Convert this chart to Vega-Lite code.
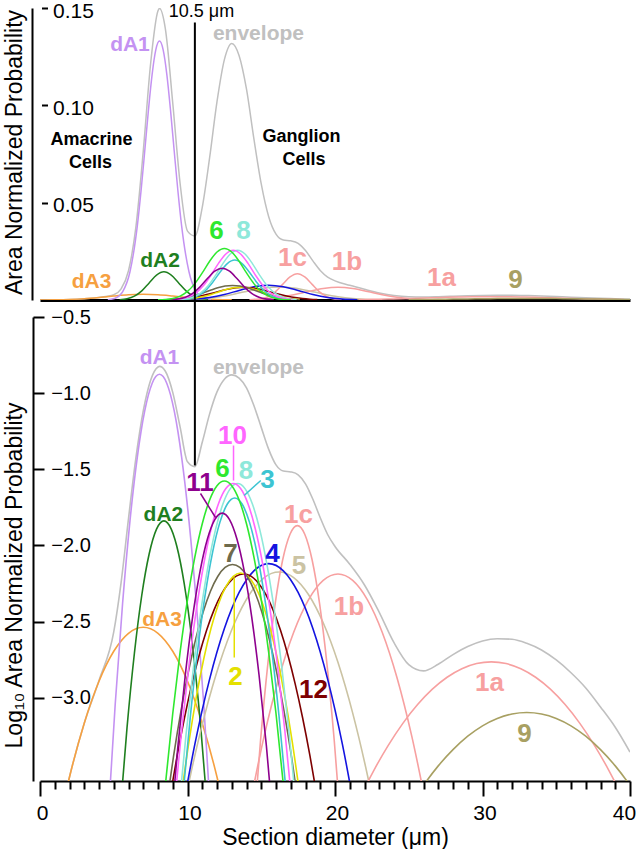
{
  "$schema": "https://vega.github.io/schema/vega-lite/v6.json",
  "padding": {"left": 3, "top": 0, "right": 0, "bottom": 0},
  "background": "white",
  "config": {
    "font": "Liberation Sans",
    "view": {"stroke": null},
    "axis": {"grid": false, "domainColor": "black", "tickColor": "black", "labelColor": "black", "titleColor": "black", "labelFont": "Liberation Sans", "titleFont": "Liberation Sans", "titleFontWeight": "normal"}
  },
  "datasets": {
    "curves": [
      {"c":"envelope","x":0,"p":0.0000343},{"c":"envelope","x":1,"p":0.000111},{"c":"envelope","x":2,"p":0.000302},{"c":"envelope","x":3,"p":0.000681},{"c":"envelope","x":4,"p":0.0013},{"c":"envelope","x":5,"p":0.00271},{"c":"envelope","x":5.5,"p":0.00573},{"c":"envelope","x":6,"p":0.01502},{"c":"envelope","x":6.5,"p":0.03743},{"c":"envelope","x":7,"p":0.07638},{"c":"envelope","x":7.5,"p":0.1215},{"c":"envelope","x":8,"p":0.1486},{"c":"envelope","x":8.1,"p":0.1498},{"c":"envelope","x":8.5,"p":0.1393},{"c":"envelope","x":9,"p":0.1012},{"c":"envelope","x":9.5,"p":0.0598},{"c":"envelope","x":10,"p":0.0354},{"c":"envelope","x":10.5,"p":0.0329},{"c":"envelope","x":11,"p":0.0476},{"c":"envelope","x":11.5,"p":0.0731},{"c":"envelope","x":12,"p":0.1019},{"c":"envelope","x":12.5,"p":0.1235},{"c":"envelope","x":13,"p":0.1318},{"c":"envelope","x":13.5,"p":0.1255},{"c":"envelope","x":14,"p":0.1083},{"c":"envelope","x":14.5,"p":0.0829},{"c":"envelope","x":15,"p":0.0596},{"c":"envelope","x":15.5,"p":0.0429},{"c":"envelope","x":16,"p":0.0338},{"c":"envelope","x":16.5,"p":0.0308},{"c":"envelope","x":17,"p":0.0304},{"c":"envelope","x":17.5,"p":0.0291},{"c":"envelope","x":18,"p":0.0254},{"c":"envelope","x":18.5,"p":0.0201},{"c":"envelope","x":19,"p":0.0152},{"c":"envelope","x":19.5,"p":0.0118},{"c":"envelope","x":20,"p":0.00985},{"c":"envelope","x":21,"p":0.00753},{"c":"envelope","x":22,"p":0.0055},{"c":"envelope","x":23,"p":0.00364},{"c":"envelope","x":24,"p":0.0023},{"c":"envelope","x":25,"p":0.00165},{"c":"envelope","x":26,"p":0.0015},{"c":"envelope","x":27,"p":0.00166},{"c":"envelope","x":28,"p":0.00192},{"c":"envelope","x":29,"p":0.00217},{"c":"envelope","x":30,"p":0.00236},{"c":"envelope","x":31,"p":0.00244},{"c":"envelope","x":32,"p":0.00242},{"c":"envelope","x":33,"p":0.00228},{"c":"envelope","x":34,"p":0.00206},{"c":"envelope","x":35,"p":0.00177},{"c":"envelope","x":36,"p":0.00146},{"c":"envelope","x":37,"p":0.00116},{"c":"envelope","x":38,"p":0.00087},{"c":"envelope","x":39,"p":0.00064},{"c":"envelope","x":40,"p":0.00044},
      {"c":"dA3","x":0,"p":0.0000343},{"c":"dA3","x":1,"p":0.000111},{"c":"dA3","x":2,"p":0.000302},{"c":"dA3","x":3,"p":0.000681},{"c":"dA3","x":4,"p":0.001284},{"c":"dA3","x":5,"p":0.002019},{"c":"dA3","x":6,"p":0.002649},{"c":"dA3","x":7,"p":0.0029},{"c":"dA3","x":8,"p":0.002649},{"c":"dA3","x":9,"p":0.002019},{"c":"dA3","x":10,"p":0.001284},{"c":"dA3","x":11,"p":0.000681},{"c":"dA3","x":12,"p":0.000302},{"c":"dA3","x":13,"p":0.000111},
      {"c":"dA1","x":4.6,"p":0.00015},{"c":"dA1","x":5.1,"p":0.000909},{"c":"dA1","x":5.6,"p":0.00417},{"c":"dA1","x":6.1,"p":0.0145},{"c":"dA1","x":6.6,"p":0.0382},{"c":"dA1","x":6.85,"p":0.056},{"c":"dA1","x":7.1,"p":0.0764},{"c":"dA1","x":7.35,"p":0.0974},{"c":"dA1","x":7.6,"p":0.1158},{"c":"dA1","x":7.85,"p":0.1285},{"c":"dA1","x":8.1,"p":0.133},{"c":"dA1","x":8.35,"p":0.1285},{"c":"dA1","x":8.6,"p":0.1158},{"c":"dA1","x":8.85,"p":0.0974},{"c":"dA1","x":9.1,"p":0.0764},{"c":"dA1","x":9.35,"p":0.056},{"c":"dA1","x":9.6,"p":0.0382},{"c":"dA1","x":10.1,"p":0.0145},{"c":"dA1","x":10.6,"p":0.00417},{"c":"dA1","x":11.1,"p":0.000909},{"c":"dA1","x":11.6,"p":0.00015},
      {"c":"dA2","x":5.4,"p":0.000161},{"c":"dA2","x":5.9,"p":0.000637},{"c":"dA2","x":6.4,"p":0.00196},{"c":"dA2","x":6.9,"p":0.00471},{"c":"dA2","x":7.4,"p":0.00879},{"c":"dA2","x":7.9,"p":0.0128},{"c":"dA2","x":8.4,"p":0.0145},{"c":"dA2","x":8.9,"p":0.0128},{"c":"dA2","x":9.4,"p":0.00879},{"c":"dA2","x":9.9,"p":0.00471},{"c":"dA2","x":10.4,"p":0.00196},{"c":"dA2","x":10.9,"p":0.000637},{"c":"dA2","x":11.4,"p":0.000161},
      {"c":"5","x":9.2,"p":0.000102},{"c":"5","x":10.2,"p":0.00031},{"c":"5","x":11.2,"p":0.000793},{"c":"5","x":12.2,"p":0.001709},{"c":"5","x":13.2,"p":0.003107},{"c":"5","x":14.2,"p":0.004762},{"c":"5","x":15.2,"p":0.006152},{"c":"5","x":16.2,"p":0.0067},{"c":"5","x":17.2,"p":0.006152},{"c":"5","x":18.2,"p":0.004762},{"c":"5","x":19.2,"p":0.003107},{"c":"5","x":20.2,"p":0.001709},{"c":"5","x":21.2,"p":0.000793},{"c":"5","x":22.2,"p":0.00031},{"c":"5","x":23.2,"p":0.000102},
      {"c":"1b","x":14.2,"p":0.000192},{"c":"1b","x":15.2,"p":0.000562},{"c":"1b","x":16.2,"p":0.001358},{"c":"1b","x":17.2,"p":0.002693},{"c":"1b","x":18.2,"p":0.004394},{"c":"1b","x":19.2,"p":0.005894},{"c":"1b","x":20.2,"p":0.0065},{"c":"1b","x":21.2,"p":0.005894},{"c":"1b","x":22.2,"p":0.004394},{"c":"1b","x":23.2,"p":0.002693},{"c":"1b","x":24.2,"p":0.001358},{"c":"1b","x":25.2,"p":0.000562},{"c":"1b","x":26.2,"p":0.000192},
      {"c":"1a","x":21.6,"p":0.000212},{"c":"1a","x":22.6,"p":0.000329},{"c":"1a","x":23.6,"p":0.000485},{"c":"1a","x":24.6,"p":0.000679},{"c":"1a","x":25.6,"p":0.000902},{"c":"1a","x":26.6,"p":0.001138},{"c":"1a","x":27.6,"p":0.001363},{"c":"1a","x":28.6,"p":0.001551},{"c":"1a","x":29.6,"p":0.001676},{"c":"1a","x":30.6,"p":0.00172},{"c":"1a","x":31.6,"p":0.001676},{"c":"1a","x":32.6,"p":0.001551},{"c":"1a","x":33.6,"p":0.001363},{"c":"1a","x":34.6,"p":0.001138},{"c":"1a","x":35.6,"p":0.000902},{"c":"1a","x":36.6,"p":0.000679},{"c":"1a","x":37.6,"p":0.000485},{"c":"1a","x":38.6,"p":0.000329},{"c":"1a","x":39.6,"p":0.000212},
      {"c":"9","x":25,"p":0.00019},{"c":"9","x":26,"p":0.000266},{"c":"9","x":27,"p":0.000357},{"c":"9","x":28,"p":0.000456},{"c":"9","x":29,"p":0.000559},{"c":"9","x":30,"p":0.000654},{"c":"9","x":31,"p":0.000731},{"c":"9","x":32,"p":0.000782},{"c":"9","x":33,"p":0.0008},{"c":"9","x":34,"p":0.000782},{"c":"9","x":35,"p":0.000731},{"c":"9","x":36,"p":0.000654},{"c":"9","x":37,"p":0.000559},{"c":"9","x":38,"p":0.000456},{"c":"9","x":39,"p":0.000357},{"c":"9","x":40,"p":0.000266},{"c":"9","x":41,"p":0.00019},
      {"c":"1c","x":14.45,"p":0.000125},{"c":"1c","x":14.95,"p":0.000522},{"c":"1c","x":15.45,"p":0.001683},{"c":"1c","x":15.95,"p":0.004185},{"c":"1c","x":16.45,"p":0.008022},{"c":"1c","x":16.95,"p":0.01185},{"c":"1c","x":17.45,"p":0.0135},{"c":"1c","x":17.95,"p":0.01185},{"c":"1c","x":18.45,"p":0.008022},{"c":"1c","x":18.95,"p":0.004185},{"c":"1c","x":19.45,"p":0.001683},{"c":"1c","x":19.95,"p":0.000522},{"c":"1c","x":20.45,"p":0.000125},
      {"c":"4","x":9.5,"p":0.000149},{"c":"4","x":10.5,"p":0.000496},{"c":"4","x":11.5,"p":0.001325},{"c":"4","x":12.5,"p":0.002845},{"c":"4","x":13.5,"p":0.004911},{"c":"4","x":14.5,"p":0.006814},{"c":"4","x":15.5,"p":0.0076},{"c":"4","x":16.5,"p":0.006814},{"c":"4","x":17.5,"p":0.004911},{"c":"4","x":18.5,"p":0.002845},{"c":"4","x":19.5,"p":0.001325},{"c":"4","x":20.5,"p":0.000496},{"c":"4","x":21.5,"p":0.000149},
      {"c":"12","x":8.8,"p":0.000219},{"c":"12","x":9.3,"p":0.000417},{"c":"12","x":9.8,"p":0.000742},{"c":"12","x":10.3,"p":0.001234},{"c":"12","x":10.8,"p":0.001918},{"c":"12","x":11.3,"p":0.002785},{"c":"12","x":11.8,"p":0.003778},{"c":"12","x":12.3,"p":0.00479},{"c":"12","x":12.8,"p":0.005676},{"c":"12","x":13.3,"p":0.006284},{"c":"12","x":13.8,"p":0.0065},{"c":"12","x":14.3,"p":0.006284},{"c":"12","x":14.8,"p":0.005676},{"c":"12","x":15.3,"p":0.00479},{"c":"12","x":15.8,"p":0.003778},{"c":"12","x":16.3,"p":0.002785},{"c":"12","x":16.8,"p":0.001918},{"c":"12","x":17.3,"p":0.001234},{"c":"12","x":17.8,"p":0.000742},{"c":"12","x":18.3,"p":0.000417},{"c":"12","x":18.8,"p":0.000219},
      {"c":"2","x":9.6,"p":0.000236},{"c":"2","x":10.1,"p":0.000516},{"c":"2","x":10.6,"p":0.001014},{"c":"2","x":11.1,"p":0.001797},{"c":"2","x":11.6,"p":0.002871},{"c":"2","x":12.1,"p":0.004132},{"c":"2","x":12.6,"p":0.00536},{"c":"2","x":13.1,"p":0.006265},{"c":"2","x":13.6,"p":0.0066},{"c":"2","x":14.1,"p":0.006265},{"c":"2","x":14.6,"p":0.00536},{"c":"2","x":15.1,"p":0.004132},{"c":"2","x":15.6,"p":0.002871},{"c":"2","x":16.1,"p":0.001797},{"c":"2","x":16.6,"p":0.001014},{"c":"2","x":17.1,"p":0.000516},{"c":"2","x":17.6,"p":0.000236},
      {"c":"7","x":8.55,"p":0.00019},{"c":"7","x":9.05,"p":0.000411},{"c":"7","x":9.55,"p":0.000812},{"c":"7","x":10.05,"p":0.001465},{"c":"7","x":10.55,"p":0.002413},{"c":"7","x":11.05,"p":0.003629},{"c":"7","x":11.55,"p":0.004986},{"c":"7","x":12.05,"p":0.006255},{"c":"7","x":12.55,"p":0.007168},{"c":"7","x":13.05,"p":0.0075},{"c":"7","x":13.55,"p":0.007168},{"c":"7","x":14.05,"p":0.006255},{"c":"7","x":14.55,"p":0.004986},{"c":"7","x":15.05,"p":0.003629},{"c":"7","x":15.55,"p":0.002413},{"c":"7","x":16.05,"p":0.001465},{"c":"7","x":16.55,"p":0.000812},{"c":"7","x":17.05,"p":0.000411},{"c":"7","x":17.55,"p":0.00019},
      {"c":"3","x":9.7,"p":0.000234},{"c":"3","x":10.2,"p":0.000766},{"c":"3","x":10.7,"p":0.002091},{"c":"3","x":11.2,"p":0.004756},{"c":"3","x":11.7,"p":0.009014},{"c":"3","x":12.2,"p":0.01423},{"c":"3","x":12.7,"p":0.01871},{"c":"3","x":13.2,"p":0.0205},{"c":"3","x":13.7,"p":0.01871},{"c":"3","x":14.2,"p":0.01423},{"c":"3","x":14.7,"p":0.009014},{"c":"3","x":15.2,"p":0.004756},{"c":"3","x":15.7,"p":0.002091},{"c":"3","x":16.2,"p":0.000766},{"c":"3","x":16.7,"p":0.000234},
      {"c":"8","x":9.4,"p":0.000179},{"c":"8","x":9.9,"p":0.000572},{"c":"8","x":10.4,"p":0.001566},{"c":"8","x":10.9,"p":0.003675},{"c":"8","x":11.4,"p":0.00738},{"c":"8","x":11.9,"p":0.01269},{"c":"8","x":12.4,"p":0.0187},{"c":"8","x":12.9,"p":0.0236},{"c":"8","x":13.4,"p":0.0255},{"c":"8","x":13.9,"p":0.0236},{"c":"8","x":14.4,"p":0.0187},{"c":"8","x":14.9,"p":0.01269},{"c":"8","x":15.4,"p":0.00738},{"c":"8","x":15.9,"p":0.003675},{"c":"8","x":16.4,"p":0.001566},{"c":"8","x":16.9,"p":0.000572},{"c":"8","x":17.4,"p":0.000179},
      {"c":"10","x":9.1,"p":0.000193},{"c":"10","x":9.6,"p":0.000607},{"c":"10","x":10.1,"p":0.001636},{"c":"10","x":10.6,"p":0.003787},{"c":"10","x":11.1,"p":0.007525},{"c":"10","x":11.6,"p":0.01283},{"c":"10","x":12.1,"p":0.01879},{"c":"10","x":12.6,"p":0.02363},{"c":"10","x":13.1,"p":0.0255},{"c":"10","x":13.6,"p":0.02363},{"c":"10","x":14.1,"p":0.01879},{"c":"10","x":14.6,"p":0.01283},{"c":"10","x":15.1,"p":0.007525},{"c":"10","x":15.6,"p":0.003787},{"c":"10","x":16.1,"p":0.001636},{"c":"10","x":16.6,"p":0.000607},{"c":"10","x":17.1,"p":0.000193},
      {"c":"11","x":8.85,"p":0.000135},{"c":"11","x":9.35,"p":0.000481},{"c":"11","x":9.85,"p":0.00141},{"c":"11","x":10.35,"p":0.003405},{"c":"11","x":10.85,"p":0.006755},{"c":"11","x":11.35,"p":0.01102},{"c":"11","x":11.85,"p":0.01478},{"c":"11","x":12.35,"p":0.0163},{"c":"11","x":12.85,"p":0.01478},{"c":"11","x":13.35,"p":0.01102},{"c":"11","x":13.85,"p":0.006755},{"c":"11","x":14.35,"p":0.003405},{"c":"11","x":14.85,"p":0.00141},{"c":"11","x":15.35,"p":0.000481},{"c":"11","x":15.85,"p":0.000135},
      {"c":"6","x":8,"p":0.0000793},{"c":"6","x":8.5,"p":0.000268},{"c":"6","x":9,"p":0.000788},{"c":"6","x":9.5,"p":0.002003},{"c":"6","x":10,"p":0.00441},{"c":"6","x":10.5,"p":0.008408},{"c":"6","x":11,"p":0.01389},{"c":"6","x":11.5,"p":0.01989},{"c":"6","x":12,"p":0.02467},{"c":"6","x":12.5,"p":0.0265},{"c":"6","x":13,"p":0.02467},{"c":"6","x":13.5,"p":0.01989},{"c":"6","x":14,"p":0.01389},{"c":"6","x":14.5,"p":0.008408},{"c":"6","x":15,"p":0.00441},{"c":"6","x":15.5,"p":0.002003},{"c":"6","x":16,"p":0.000788},{"c":"6","x":16.5,"p":0.000268},{"c":"6","x":17,"p":0.0000793}
    ],
    "ltop": [
      {"c":"dA1","t":"dA1","x":6.1,"p":0.1308},
      {"c":"envelope","t":"envelope","x":14.81,"p":0.1364},
      {"c":"6","t":"6","x":11.97,"p":0.0352},
      {"c":"8","t":"8","x":13.8,"p":0.0352},
      {"c":"dA2","t":"dA2","x":8.14,"p":0.0198},
      {"c":"1c","t":"1c","x":17.12,"p":0.0218},
      {"c":"1b","t":"1b","x":20.81,"p":0.0193},
      {"c":"dA3","t":"dA3","x":3.49,"p":0.009},
      {"c":"1a","t":"1a","x":27.22,"p":0.0113},
      {"c":"9","t":"9","x":32.24,"p":0.0105}
    ],
    "lbot": [
      {"c":"dA1","t":"dA1","x":8.1,"p":0.1689},
      {"c":"envelope","t":"envelope","x":14.81,"p":0.1462},
      {"c":"10","t":"10","x":13.05,"p":0.0527},
      {"c":"6","t":"6","x":12.37,"p":0.03155},
      {"c":"8","t":"8","x":13.97,"p":0.0306},
      {"c":"3","t":"3","x":15.42,"p":0.0267},
      {"c":"11","t":"11","x":10.85,"p":0.0257},
      {"c":"dA2","t":"dA2","x":8.37,"p":0.01585},
      {"c":"1c","t":"1c","x":17.53,"p":0.01574},
      {"c":"7","t":"7","x":12.92,"p":0.00873},
      {"c":"4","t":"4","x":15.76,"p":0.00873},
      {"c":"5","t":"5","x":17.56,"p":0.00728},
      {"c":"1b","t":"1b","x":20.95,"p":0.00397},
      {"c":"dA3","t":"dA3","x":8.27,"p":0.00324},
      {"c":"2","t":"2","x":13.25,"p":0.001377},
      {"c":"12","t":"12","x":18.54,"p":0.001117},
      {"c":"1a","t":"1a","x":30.47,"p":0.001259},
      {"c":"9","t":"9","x":32.85,"p":0.000574}
    ],
    "leaders": [
      {"c":"10","x":13.12,"p":0.0453,"x2":13.12,"p2":0.02668},
      {"c":"11","x":10.88,"p":0.02193,"x2":11.9,"p2":0.01526},
      {"c":"3","x":14.97,"p":0.0267,"x2":13.84,"p2":0.02129},
      {"c":"2","x":13.17,"p":0.00617,"x2":13.17,"p2":0.001837}
    ],
    "btop": [
      {"t":"Amacrine","x":3.49,"p":0.0822},
      {"t":"Cells","x":3.42,"p":0.0704},
      {"t":"Ganglion","x":17.73,"p":0.0835},
      {"t":"Cells","x":17.9,"p":0.0717}
    ],
    "mark105": [
      {"t":"10.5 μm","x":10.95,"p":0.1482}
    ]
  },
  "spacing": 17,
  "bounds": "flush",
  "vconcat": [
    {
      "width": 590,
      "height": 292,
      "resolve": {"axis": {"y": "independent"}},
      "layer": [
        {
          "data": {"name": "curves"},
          "mark": {"type": "line", "interpolate": "monotone", "strokeWidth": 1.5, "clip": true},
          "encoding": {
            "x": {"field": "x", "type": "quantitative", "scale": {"domain": [0, 40], "nice": false}, "axis": {"domain": true, "domainWidth": 3, "ticks": false, "labels": false, "title": null}},
            "y": {"field": "p", "type": "quantitative", "scale": {"domain": [0, 0.15], "nice": false}, "axis": {"orient": "left", "offset": 8, "domainWidth": 2, "ticks": false, "labels": false, "title": "Area Normalized Probability", "titleFontSize": 23, "titleX": -10.5, "titleY": 144, "titleAngle": -90, "titleBaseline": "alphabetic", "titleAlign": "center"}},
            "color": {"field": "c", "type": "nominal", "legend": null, "scale": {"domain": ["envelope","dA1","dA2","dA3","6","11","10","8","3","7","2","12","4","5","1c","1b","1a","9"], "range": ["#c0c0c0","#c492f2","#1f7f1f","#f6a040","#2ee82e","#8e008e","#ff66ff","#8ee8da","#3cc4d2","#6e6a4c","#e4e000","#7e0000","#1414e0","#cbc3a3","#f7a0a0","#f7a0a0","#f7a0a0","#a8a062"]}}
          }
        },
        {
          "data": {"values": [{}]},
          "mark": {"type": "rule", "strokeWidth": 2, "color": "black"},
          "encoding": {
            "x": {"datum": 10.5, "type": "quantitative"},
            "y": {"datum": 0, "type": "quantitative", "axis": {"orient": "left", "offset": -1.5, "domain": false, "tickSize": -6, "tickWidth": 2, "values": [0.05, 0.1, 0.15], "format": ".2f", "labelAlign": "left", "labelBaseline": "middle", "labelPadding": -5, "labelOffset": 3, "labelFontSize": 21, "title": null}},
            "y2": {"datum": 0.1425}
          }
        },
        {
          "data": {"name": "ltop"},
          "transform": [{"filter": "length(datum.t) >= 3"}],
          "mark": {"type": "text", "fontWeight": "bold", "fontSize": 21, "align": "center", "baseline": "middle"},
          "encoding": {
            "x": {"field": "x", "type": "quantitative"},
            "y": {"field": "p", "type": "quantitative", "axis": null},
            "text": {"field": "t"},
            "color": {"field": "c", "type": "nominal", "legend": null}
          }
        },
        {
          "data": {"name": "ltop"},
          "transform": [{"filter": "length(datum.t) < 3"}],
          "mark": {"type": "text", "fontWeight": "bold", "fontSize": 26, "align": "center", "baseline": "middle"},
          "encoding": {
            "x": {"field": "x", "type": "quantitative"},
            "y": {"field": "p", "type": "quantitative", "axis": null},
            "text": {"field": "t"},
            "color": {"field": "c", "type": "nominal", "legend": null}
          }
        },
        {
          "data": {"name": "btop"},
          "mark": {"type": "text", "fontWeight": "bold", "fontSize": 18, "align": "center", "baseline": "middle", "color": "black"},
          "encoding": {
            "x": {"field": "x", "type": "quantitative"},
            "y": {"field": "p", "type": "quantitative", "axis": null},
            "text": {"field": "t"}
          }
        },
        {
          "data": {"name": "mark105"},
          "mark": {"type": "text", "fontSize": 18, "align": "center", "baseline": "middle", "color": "black"},
          "encoding": {
            "x": {"field": "x", "type": "quantitative"},
            "y": {"field": "p", "type": "quantitative", "axis": null},
            "text": {"field": "t"}
          }
        }
      ]
    },
    {
      "width": 590,
      "height": 464,
      "layer": [
        {
          "data": {"name": "curves"},
          "mark": {"type": "line", "interpolate": "monotone", "strokeWidth": 1.6, "clip": true},
          "encoding": {
            "x": {"field": "x", "type": "quantitative", "scale": {"domain": [0, 40], "nice": false}, "axis": {"values": [0,1,2,3,4,5,6,7,8,9,10,11,12,13,14,15,16,17,18,19,20,21,22,23,24,25,26,27,28,29,30,31,32,33,34,35,36,37,38,39,40], "tickCount": 100, "format": "d", "domainWidth": 2, "tickWidth": 2, "tickSize": {"condition": {"test": "datum.value % 10 === 0", "value": 15}, "value": 8}, "labelExpr": "datum.value % 10 === 0 ? datum.label : ''", "labelOffset": {"condition": {"test": "datum.value === 40", "value": -6}, "value": 2}, "labelFontSize": 21, "labelPadding": 6, "labelOverlap": false, "labelFlush": false, "title": "Section diameter (μm)", "titleFontSize": 23, "titlePadding": 3}},
            "y": {"field": "p", "type": "quantitative", "scale": {"type": "log", "domain": [0.000284, 0.316228], "nice": false}, "axis": {"orient": "left", "offset": 7, "domainWidth": 2, "tickWidth": 2, "tickSize": -11, "tickCount": 20, "values": [0.316228, 0.1, 0.0316228, 0.01, 0.00316228, 0.001], "labelExpr": "format(log(datum.value)/LN10, '.1f')", "labelAlign": "left", "labelBaseline": "middle", "labelPadding": -6.8, "labelFontSize": 20, "title": "Log₁₀ Area Normalized Probability", "titleFontSize": 23, "titleX": -11.5, "titleY": 258, "titleAngle": -90, "titleBaseline": "alphabetic", "titleAlign": "center"}},
            "color": {"field": "c", "type": "nominal", "legend": null, "scale": {"domain": ["envelope","dA1","dA2","dA3","6","11","10","8","3","7","2","12","4","5","1c","1b","1a","9"], "range": ["#c0c0c0","#c492f2","#1f7f1f","#f6a040","#2ee82e","#8e008e","#ff66ff","#8ee8da","#3cc4d2","#6e6a4c","#e4e000","#7e0000","#1414e0","#cbc3a3","#f7a0a0","#f7a0a0","#f7a0a0","#a8a062"]}}
          }
        },
        {
          "data": {"values": [{}]},
          "mark": {"type": "rule", "strokeWidth": 2, "color": "black", "clip": false},
          "encoding": {
            "x": {"datum": 10.5, "type": "quantitative"},
            "y": {"datum": 0.41, "type": "quantitative"},
            "y2": {"datum": 0.0335}
          }
        },
        {
          "data": {"name": "leaders"},
          "mark": {"type": "rule", "strokeWidth": 1.5},
          "encoding": {
            "x": {"field": "x", "type": "quantitative"},
            "x2": {"field": "x2"},
            "y": {"field": "p", "type": "quantitative"},
            "y2": {"field": "p2"},
            "color": {"field": "c", "type": "nominal", "legend": null}
          }
        },
        {
          "data": {"name": "lbot"},
          "transform": [{"filter": "length(datum.t) >= 3"}],
          "mark": {"type": "text", "fontWeight": "bold", "fontSize": 21, "align": "center", "baseline": "middle"},
          "encoding": {
            "x": {"field": "x", "type": "quantitative"},
            "y": {"field": "p", "type": "quantitative"},
            "text": {"field": "t"},
            "color": {"field": "c", "type": "nominal", "legend": null}
          }
        },
        {
          "data": {"name": "lbot"},
          "transform": [{"filter": "length(datum.t) < 3"}],
          "mark": {"type": "text", "fontWeight": "bold", "fontSize": 26, "align": "center", "baseline": "middle"},
          "encoding": {
            "x": {"field": "x", "type": "quantitative"},
            "y": {"field": "p", "type": "quantitative"},
            "text": {"field": "t"},
            "color": {"field": "c", "type": "nominal", "legend": null}
          }
        }
      ]
    }
  ]
}
